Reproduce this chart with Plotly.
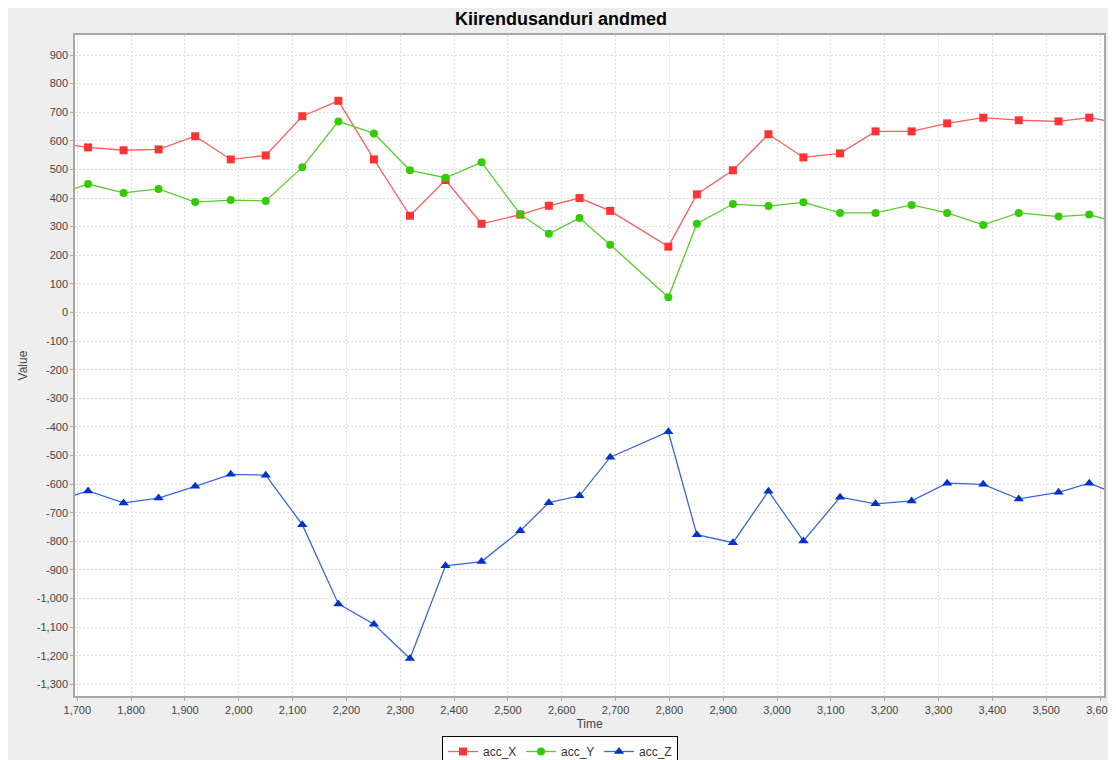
import plotly.graph_objects as go

# Time values (the first and last lie just outside the visible range)
time = [1653, 1720, 1786, 1851, 1919, 1985, 2050, 2118, 2185, 2251, 2318,
        2384, 2451, 2523, 2576, 2633, 2690, 2798, 2851, 2918, 2984, 3049,
        3117, 3183, 3250, 3316, 3383, 3449, 3523, 3580, 3645]

acc_X = [594, 577, 567, 570, 616, 535, 549, 686, 740, 535, 338,
         463, 310, 342, 373, 400, 355, 230, 413, 497, 623, 542,
         556, 633, 633, 661, 681, 672, 668, 681, 659]

acc_Y = [407, 449, 418, 432, 386, 393, 390, 508, 668, 626, 497,
         471, 525, 343, 275, 330, 237, 53, 310, 379, 372, 385,
         348, 348, 376, 348, 306, 348, 335, 342, 308]

acc_Z = [-663, -624, -666, -649, -608, -566, -569, -742, -1019, -1090, -1210,
         -886, -871, -763, -665, -641, -506, -417, -777, -805, -625, -799,
         -646, -669, -659, -597, -601, -652, -629, -597, -645]

series_names = ["acc_X", "acc_Y", "acc_Z"]

x_ticks = [1700, 1800, 1900, 2000, 2100, 2200, 2300, 2400, 2500, 2600,
           2700, 2800, 2900, 3000, 3100, 3200, 3300, 3400, 3500, 3600]
y_ticks = [-1300, -1200, -1100, -1000, -900, -800, -700, -600, -500, -400,
           -300, -200, -100, 0, 100, 200, 300, 400, 500, 600, 700, 800, 900]

FONT = "Liberation Sans, Arial, sans-serif"

fig = go.Figure()
styles = [
    ("#FF5C5C", "#FF3333", "square", 8),
    ("#5ACC2E", "#33CC00", "circle", 8),
    ("#3A66DD", "#0033CC", "triangle-up", 9),
]
for name, vals, (lc, mc, sym, sz) in zip(series_names, [acc_X, acc_Y, acc_Z], styles):
    fig.add_trace(go.Scatter(
        x=time, y=vals, name=name, mode="lines+markers",
        line=dict(color=lc, width=1.3),
        marker=dict(color=mc, symbol=sym, size=sz, line=dict(width=0)),
    ))

# figure is placed at (8,8) by the page's body margin
W, H = 1108, 752
L, T, R, B = 67, 27, 1096, 688   # plot area edges in figure pixels

fig.update_layout(
    width=W, height=H,
    margin=dict(l=L, r=W - R, t=T, b=H - B, pad=0, autoexpand=False),
    paper_bgcolor="#EEEEEE",
    plot_bgcolor="white",
    title=dict(text="<b>Kiirendusanduri andmed</b>",
               x=553 / W, xref="container", xanchor="center",
               y=1 - 11 / H, yref="container", yanchor="middle",
               font=dict(family=FONT, size=18, color="black")),
    font=dict(family=FONT, size=11, color="#444444"),
    showlegend=True,
    legend=dict(orientation="h",
                x=552 / W, xref="container", xanchor="center",
                y=1 - 728 / H, yref="container", yanchor="top",
                bgcolor="white", bordercolor="black", borderwidth=1,
                font=dict(family=FONT, size=12, color="#333333"),
                itemwidth=30, entrywidth=33, tracegroupgap=0),
)

fig.update_xaxes(
    range=[1695.7, 3607.4],
    tickvals=x_ticks, ticktext=[f"{v:,}" for v in x_ticks],
    showgrid=True, gridcolor="#DCDCDC", griddash="2px,2px", gridwidth=1,
    zeroline=False,
    showline=True, linecolor="#A8A8A8", linewidth=1.5, mirror=True,
    ticks="outside", ticklen=3, tickcolor="#A8A8A8",
    tickfont=dict(family=FONT, size=11, color="#444444"),
    ticklabeloverflow="allow",
    title=dict(text="Time", font=dict(family=FONT, size=12, color="#444444"), standoff=5),
)
fig.update_yaxes(
    range=[-1341, 970],
    tickvals=y_ticks, ticktext=[f"{v:,}" for v in y_ticks],
    showgrid=True, gridcolor="#DCDCDC", griddash="2px,2px", gridwidth=1,
    zeroline=False,
    showline=True, linecolor="#A8A8A8", linewidth=1.5, mirror=True,
    ticks="outside", ticklen=3, tickcolor="#A8A8A8",
    tickfont=dict(family=FONT, size=11, color="#444444"),
    title=dict(text="Value", font=dict(family=FONT, size=12, color="#444444"), standoff=7),
)

fig.write_html("out.html", post_script="document.body.style.overflow='hidden';")
